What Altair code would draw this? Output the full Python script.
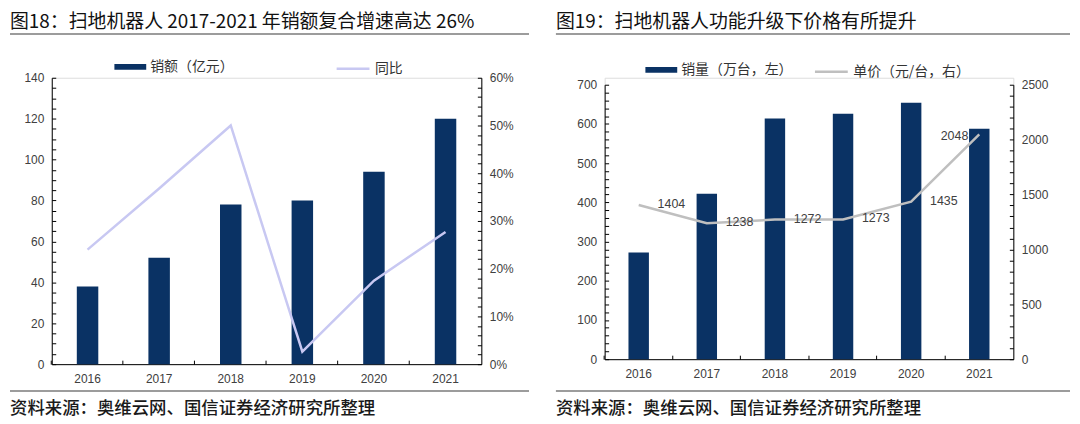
import altair as alt
import pandas as pd

# ---------------- data ----------------
years = ["2016", "2017", "2018", "2019", "2020", "2021"]
sales_amount = [38, 52, 78, 80, 94, 120]                 # 销额（亿元）
yoy_growth = [0.24, 0.368, 0.50, 0.026, 0.175, 0.277]    # 同比
sales_volume = [272, 422, 614, 626, 654, 588]            # 销量（万台）
unit_price = [1404, 1238, 1272, 1273, 1435, 2048]        # 单价（元/台）

left_amount_ticks = list(range(0, 141, 5))
left_pct_ticks = [v / 100 for v in range(0, 61, 2)]
right_volume_ticks = list(range(0, 701, 20))
right_price_ticks = list(range(0, 2501, 100))

title_left = "图18：扫地机器人 2017-2021 年销额复合增速高达 26%"
title_right = "图19：扫地机器人功能升级下价格有所提升"
source_note = "资料来源：奥维云网、国信证券经济研究所整理"
legend_bar_left = "销额（亿元）"
legend_line_left = "同比"
legend_bar_right = "销量（万台，左）"
legend_line_right = "单价（元/台，右）"

# ---------------- styles ----------------
CJK = "Noto Sans CJK SC"
NUM = "Liberation Sans"
NAVY = "#0a3264"
LAVENDER = "#c8c8f2"
GREY_LINE = "#bfbfbf"
TEXT = "#404040"
TICK = 4


def y_axis(orient, values, label_expr, fmt):
    # labels + domain line, ticks drawn by a separate inward axis
    return alt.Axis(
        orient=orient, values=values, labelExpr=label_expr, format=fmt, title=None,
        grid=False, domainColor="#000000", domainWidth=1, ticks=False,
        labelFont=NUM, labelFontSize=12, labelColor=TEXT, labelPadding=8,
    )


def y_tick_axis(orient, values):
    return alt.Axis(
        orient=orient, values=values, title=None, grid=False, domain=False,
        labels=False, tickColor="#000000", tickSize=TICK, tickWidth=1, offset=-TICK,
    )


def x_axis():
    return alt.Axis(
        orient="bottom", title=None, labelAngle=0, grid=False, domainColor="#000000",
        domainWidth=1, ticks=False, labelFont=NUM, labelFontSize=12, labelColor=TEXT,
        labelPadding=9,
    )


def x_tick_axis():
    return alt.Axis(
        orient="bottom", title=None, grid=False, domain=False, labels=False,
        tickColor="#000000", tickSize=TICK, tickWidth=1, offset=-TICK,
        bandPosition=-1.1667,
    )


def bar_legend(lx, ly):
    return alt.Legend(
        title=None, orient="none", legendX=lx, legendY=ly, padding=0,
        symbolType="M-1,-0.18L1,-0.18L1,0.18L-1,0.18Z", symbolSize=1024,
        symbolStrokeWidth=0, labelFont=CJK, labelFontSize=14, labelColor="#333333",
        labelOffset=4,
    )


def line_legend(lx, ly):
    return alt.Legend(
        title=None, orient="none", legendX=lx, legendY=ly, padding=0,
        symbolType="stroke", symbolSize=1089, symbolStrokeWidth=2.5,
        labelFont=CJK, labelFontSize=14, labelColor="#333333", labelOffset=4,
    )


def decorations(title, x0, x1, title_y, rule_top_y, rule_bottom_y, footer_y):
    d = pd.DataFrame({"t": [title], "f": [source_note]})
    base = alt.Chart(d)
    t = base.mark_text(align="left", baseline="middle", font=CJK, fontSize=19,
                       color="#111111").encode(
        text="t:N", x=alt.value(x0), y=alt.value(title_y))
    r1 = base.mark_rule(color="#3a3a3a", strokeWidth=1.2).encode(
        x=alt.value(x0), x2=alt.value(x1), y=alt.value(rule_top_y))
    r2 = base.mark_rule(color="#3a3a3a", strokeWidth=1.2).encode(
        x=alt.value(x0), x2=alt.value(x1), y=alt.value(rule_bottom_y))
    f = base.mark_text(align="left", baseline="middle", font=CJK, fontSize=17.5,
                       fontWeight=500, color="#1a1a1a").encode(
        text="f:N", x=alt.value(x0), y=alt.value(footer_y))
    return [t, r1, r2, f]


def x_scale():
    return alt.Scale(type="band", paddingInner=0.7, paddingOuter=0.35)


# ---------------- left panel (plot 432 x 288) ----------------
df_l = pd.DataFrame({"year": years, "amount": sales_amount, "yoy": yoy_growth})
amount_scale = alt.Scale(domain=[0, 140], nice=False)
yoy_scale = alt.Scale(domain=[0, 0.6], nice=False)

bars_l = alt.Chart(df_l).transform_calculate(series=f"'{legend_bar_left}'").mark_bar().encode(
    x=alt.X("year:N", sort=years, scale=x_scale(), axis=x_axis()),
    y=alt.Y("amount:Q", scale=amount_scale,
            axis=y_axis("left", left_amount_ticks,
                        "datum.value % 20 == 0 ? datum.label : ''", "d")),
    color=alt.Color("series:N", scale=alt.Scale(range=[NAVY]), legend=bar_legend(63, -27)),
)

line_l = alt.Chart(df_l).transform_calculate(series2=f"'{legend_line_left}'").mark_line(
    strokeWidth=2.5).encode(
    x=alt.X("year:N", sort=years, scale=x_scale(), axis=None),
    y=alt.Y("yoy:Q", scale=yoy_scale,
            axis=y_axis("right", left_pct_ticks,
                        "round(datum.value * 100) % 10 == 0 ? datum.label : ''", ".0%")),
    stroke=alt.Stroke("series2:N", scale=alt.Scale(range=[LAVENDER]), legend=line_legend(285, -27)),
)

ticks_l1 = alt.Chart(df_l).mark_bar(opacity=0).encode(
    x=alt.X("year:N", sort=years, scale=x_scale(), axis=x_tick_axis()),
    y=alt.Y("amount:Q", scale=amount_scale, axis=y_tick_axis("left", left_amount_ticks)),
)
ticks_l2 = alt.Chart(df_l).mark_bar(opacity=0).encode(
    x=alt.X("year:N", sort=years, scale=x_scale(), axis=None),
    y=alt.Y("yoy:Q", scale=yoy_scale, axis=y_tick_axis("right", left_pct_ticks)),
)

left = alt.layer(
    bars_l, line_l, ticks_l1, ticks_l2,
    *decorations(title_left, -42, 480, -56.5, -44, 315, 333)
).resolve_scale(x="independent", y="independent", color="independent",
                stroke="independent").properties(width=432, height=288)

# ---------------- right panel (plot 411 wide, axis from 7 to 283) ----------------
df_r = pd.DataFrame({"year": years, "volume": sales_volume, "price": unit_price})
volume_scale = alt.Scale(domain=[0, 700], nice=False, range=[283, 7])
price_scale = alt.Scale(domain=[0, 2500], nice=False, range=[283, 7])

bars_r = alt.Chart(df_r).transform_calculate(series=f"'{legend_bar_right}'").mark_bar().encode(
    x=alt.X("year:N", sort=years, scale=x_scale(), axis=x_axis()),
    y=alt.Y("volume:Q", scale=volume_scale,
            axis=y_axis("left", right_volume_ticks,
                        "datum.value % 100 == 0 ? datum.label : ''", "d")),
    color=alt.Color("series:N", scale=alt.Scale(range=[NAVY]), legend=bar_legend(41, -24)),
)

x_r_none = alt.X("year:N", sort=years, scale=x_scale(), axis=None)
price_y = alt.Y("price:Q", scale=price_scale,
                axis=y_axis("right", right_price_ticks,
                            "datum.value % 500 == 0 ? datum.label : ''", "d"))

line_r = alt.Chart(df_r).transform_calculate(series2=f"'{legend_line_right}'").mark_line(
    strokeWidth=2.5).encode(
    x=x_r_none, y=price_y,
    stroke=alt.Stroke("series2:N", scale=alt.Scale(range=[GREY_LINE]), legend=line_legend(210, -24)),
)

labels_r = alt.Chart(df_r).transform_filter("datum.year != '2021'").mark_text(
    align="left", baseline="middle", dx=19, dy=-1, font=NUM, fontSize=12.5, color=TEXT).encode(
    x=x_r_none, y=price_y, text="price:Q")

labels_r_last = alt.Chart(df_r).transform_filter("datum.year == '2021'").mark_text(
    align="right", baseline="middle", dx=-11, dy=2, font=NUM, fontSize=12.5, color=TEXT).encode(
    x=x_r_none, y=price_y, text="price:Q")

ticks_r1 = alt.Chart(df_r).mark_bar(opacity=0).encode(
    x=alt.X("year:N", sort=years, scale=x_scale(), axis=x_tick_axis()),
    y=alt.Y("volume:Q", scale=volume_scale, axis=y_tick_axis("left", right_volume_ticks)),
)
ticks_r2 = alt.Chart(df_r).mark_bar(opacity=0).encode(
    x=x_r_none,
    y=alt.Y("price:Q", scale=price_scale, axis=y_tick_axis("right", right_price_ticks)),
)

right = alt.layer(
    bars_r, alt.layer(line_r, labels_r, labels_r_last), ticks_r1, ticks_r2,
    *decorations(title_right, -49, 468, -56.5, -44, 315, 333)
).resolve_scale(x="independent", y="independent", color="independent",
                stroke="independent").properties(width=411, height=283)

chart = alt.hconcat(left, right, spacing=23).properties(
    padding={"left": 0, "top": 3, "right": 0, "bottom": 0}
).configure_view(stroke=None).configure(background="#ffffff")

chart.save("out.html", embed_options={"renderer": "svg", "actions": False})
